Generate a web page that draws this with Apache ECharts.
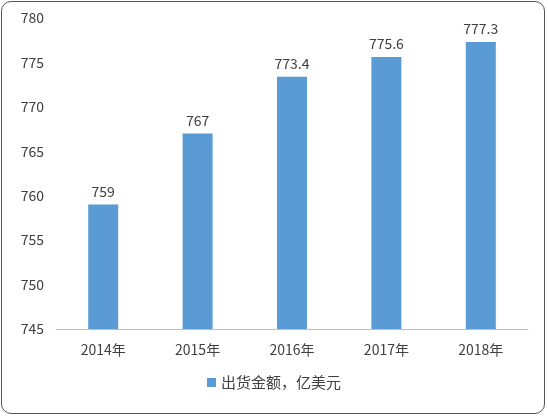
<!DOCTYPE html>
<html><head><meta charset="utf-8">
<script src="https://cdn.jsdelivr.net/npm/echarts@6/dist/echarts.min.js"></script>
<style>
html,body{margin:0;padding:0;background:#fff}
#box{position:absolute;left:1px;top:1px;width:544px;height:413px;border:1px solid #555;border-radius:10px;box-sizing:border-box}
#chart{width:548px;height:417px}
</style></head><body>
<div id="box"></div>
<div id="chart"></div>
<script>
const categories = ['2014年', '2015年', '2016年', '2017年', '2018年']
const values = [759, 767, 773.4, 775.6, 777.3]
const seriesName = '出货金额，亿美元'

const chart = echarts.init(document.getElementById('chart'))
const font = 'Noto Sans CJK SC'
chart.setOption({
  animation: false,
  textStyle: {fontFamily: font},
  grid: {left: 56, right: 20, top: 18, bottom: 88},
  xAxis: {
    type: 'category', data: categories,
    axisLine: {lineStyle: {color: '#bfbfbf'}},
    axisTick: {show: false},
    axisLabel: {color: '#404040', fontSize: 14, margin: 14}
  },
  yAxis: {
    type: 'value', min: 745, max: 780, interval: 5,
    splitLine: {show: false},
    axisLine: {show: false},
    axisLabel: {color: '#404040', fontSize: 14, margin: 12}
  },
  legend: {
    bottom: 22, left: 'center', itemWidth: 9, itemHeight: 9, itemGap: 10,
    icon: 'rect', textStyle: {color: '#404040', fontSize: 15}
  },
  series: [{
    name: seriesName, type: 'bar', data: values, barWidth: 30,
    itemStyle: {color: '#5B9BD5'},
    label: {show: true, position: 'top', color: '#404040', fontSize: 14, distance: 6}
  }]
})
</script>
</body></html>
